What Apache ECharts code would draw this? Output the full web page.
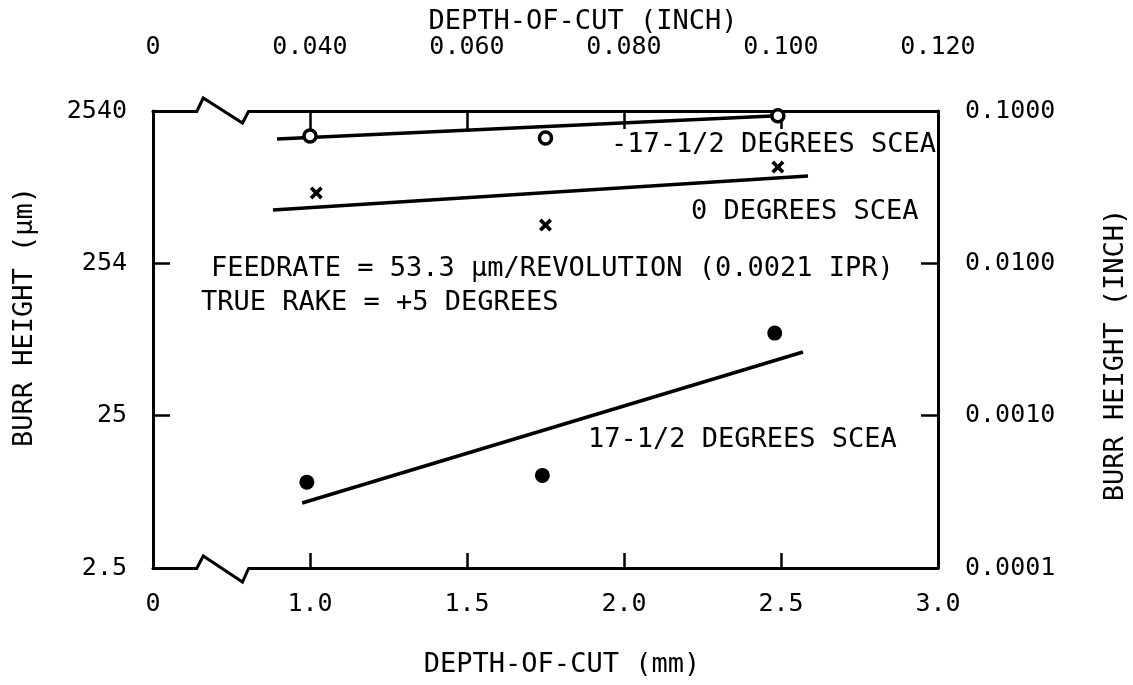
<!DOCTYPE html>
<html>
<head>
<meta charset="utf-8">
<script src="https://cdn.jsdelivr.net/npm/echarts@6/dist/echarts.min.js"></script>
<style>
html,body{margin:0;padding:0;background:#fff;}
#c{width:1133px;height:685px;}
</style>
</head>
<body>
<div id="c"></div>
<script>
// ---- data (depth-of-cut in mm, burr height in µm) ----
const bottomTickLabels = ['0', '1.0', '1.5', '2.0', '2.5', '3.0'];
const topTickLabels = ['0', '0.040', '0.060', '0.080', '0.100', '0.120'];
const leftTickLabels = ['2.5', '25', '254', '2540'];
const rightTickLabels = ['0.0001', '0.0010', '0.0100', '0.1000'];

// -17-1/2 degrees SCEA (open circles)
const depthNeg = [1.0, 1.75, 2.49];
const burrNeg = [1740, 1690, 2360];
// 0 degrees SCEA (crosses)
const depthZero = [1.02, 1.75, 2.49];
const burrZero = [736, 453, 1089];
// 17-1/2 degrees SCEA (filled circles)
const depthPos = [0.99, 1.74, 2.48];
const burrPos = [9.3, 10.3, 88.5];

// fitted lines
const fitNegX = [0.895, 2.49];
const fitNegY = [1663, 2360];
const fitZeroX = [0.882, 2.586];
const fitZeroY = [569, 951];
const fitPosX = [0.975, 2.57];
const fitPosY = [6.78, 66.5];

const UM_PER_INCH = 25400;
const FONT = '"DejaVu Sans Mono", monospace';

const pts = (xs, ys) => xs.map((x, i) => [x, ys[i] / UM_PER_INCH]);
const xIdx = v => Math.round((v - 0.5) / 0.5);
const yIdx = v => Math.round(Math.log10(v)) + 4;

const axisLineStyle = { color: '#000', width: 3 };
const tickStyle = { color: '#000', width: 2.5 };
const labelBase = { fontFamily: FONT, fontSize: 25, color: '#000' };

const chart = echarts.init(document.getElementById('c'), null, { renderer: 'canvas' });

const option = {
  animation: false,
  backgroundColor: '#fff',
  grid: { left: 153, right: 195, top: 111, bottom: 117, containLabel: false },
  xAxis: [
    {
      type: 'value', position: 'bottom', min: 0.5, max: 3, interval: 0.5,
      axisLine: { onZero: false, lineStyle: axisLineStyle },
      axisTick: { inside: true, length: 15, lineStyle: tickStyle },
      axisLabel: Object.assign({ margin: 24, formatter: v => bottomTickLabels[xIdx(v)] }, labelBase),
      splitLine: { show: false }
    },
    {
      type: 'value', position: 'top', min: 0.5, max: 3, interval: 0.5,
      axisLine: { onZero: false, lineStyle: axisLineStyle },
      axisTick: { inside: true, length: 18, lineStyle: tickStyle },
      axisLabel: Object.assign({ margin: 51, formatter: v => topTickLabels[xIdx(v)] }, labelBase),
      splitLine: { show: false }
    }
  ],
  yAxis: [
    {
      type: 'log', logBase: 10, position: 'left', min: 0.0001, max: 0.1,
      axisLine: { onZero: false, lineStyle: axisLineStyle },
      axisTick: { inside: true, length: 17, lineStyle: tickStyle },
      axisLabel: Object.assign({ margin: 26, formatter: v => leftTickLabels[yIdx(v)] }, labelBase),
      splitLine: { show: false }, minorTick: { show: false }
    },
    {
      type: 'log', logBase: 10, position: 'right', min: 0.0001, max: 0.1,
      axisLine: { onZero: false, lineStyle: axisLineStyle },
      axisTick: { inside: true, length: 17, lineStyle: tickStyle },
      axisLabel: Object.assign({ margin: 27, formatter: v => rightTickLabels[yIdx(v)] }, labelBase),
      splitLine: { show: false }, minorTick: { show: false }
    }
  ],
  series: [
    { name: 'fit -17-1/2', type: 'line', data: pts(fitNegX, fitNegY), showSymbol: false,
      lineStyle: { color: '#000', width: 3.5 }, z: 3 },
    { name: 'fit 0', type: 'line', data: pts(fitZeroX, fitZeroY), showSymbol: false,
      lineStyle: { color: '#000', width: 3.5 }, z: 3 },
    { name: 'fit 17-1/2', type: 'line', data: pts(fitPosX, fitPosY), showSymbol: false,
      lineStyle: { color: '#000', width: 3.5 }, z: 3 },
    { name: '-17-1/2 DEGREES SCEA', type: 'scatter', data: pts(depthNeg, burrNeg),
      symbol: 'circle', symbolSize: 12,
      itemStyle: { color: '#fff', borderColor: '#000', borderWidth: 3.5, opacity: 1 }, z: 5 },
    { name: '0 DEGREES SCEA', type: 'scatter', data: pts(depthZero, burrZero),
      symbol: 'path://M2,0 L5,3 L8,0 L10,2 L7,5 L10,8 L8,10 L5,7 L2,10 L0,8 L3,5 L0,2 Z',
      symbolSize: 13, itemStyle: { color: '#000', opacity: 1 }, z: 5 },
    { name: '17-1/2 DEGREES SCEA', type: 'scatter', data: pts(depthPos, burrPos),
      symbol: 'circle', symbolSize: 15, itemStyle: { color: '#000', opacity: 1 }, z: 5 }
  ]
};
chart.setOption(option);

// axis titles, annotations and axis-break symbols
const gx = v => chart.convertToPixel({ xAxisIndex: 0 }, v);
const gy = v => chart.convertToPixel({ yAxisIndex: 0 }, v);
const yTop = gy(0.1), yBot = gy(0.0001);
const bx = [gx(0.64), gx(0.66), gx(0.785), gx(0.805)];

const txt = (text, x, y, align, rot) => ({
  type: 'text', x: x, y: y, rotation: rot || 0, z: 20,
  style: { text: text, fontFamily: FONT, fontSize: 27, fill: '#000',
           align: align || 'left', verticalAlign: 'middle' }
});

const breakShape = (yb, up, down) => [
  { type: 'rect', z: 15, shape: { x: bx[0] + 1, y: yb - 3, width: bx[3] - bx[0] - 2, height: 6 },
    style: { fill: '#fff' } },
  { type: 'polyline', z: 16,
    shape: { points: [[bx[0], yb], [bx[1], yb - up], [bx[2], yb + down], [bx[3], yb]] },
    style: { stroke: '#000', lineWidth: 3, fill: null } }
];

chart.setOption({
  graphic: [
    txt('DEPTH-OF-CUT (INCH)', 583, 22, 'center'),
    txt('DEPTH-OF-CUT (mm)', 562, 665, 'center'),
    txt('BURR HEIGHT (µm)', 25, 317, 'center', Math.PI / 2),
    txt('BURR HEIGHT (INCH)', 1116, 355, 'center', Math.PI / 2),
    txt('-17-1/2 DEGREES SCEA', 611, 145),
    txt('0 DEGREES SCEA', 691, 212),
    txt('FEEDRATE = 53.3 µm/REVOLUTION (0.0021 IPR)', 211, 269),
    txt('TRUE RAKE = +5 DEGREES', 201, 303),
    txt('17-1/2 DEGREES SCEA', 588, 440)
  ].concat(breakShape(yTop, 13, 12)).concat(breakShape(yBot, 12, 14))
});
</script>
</body>
</html>
